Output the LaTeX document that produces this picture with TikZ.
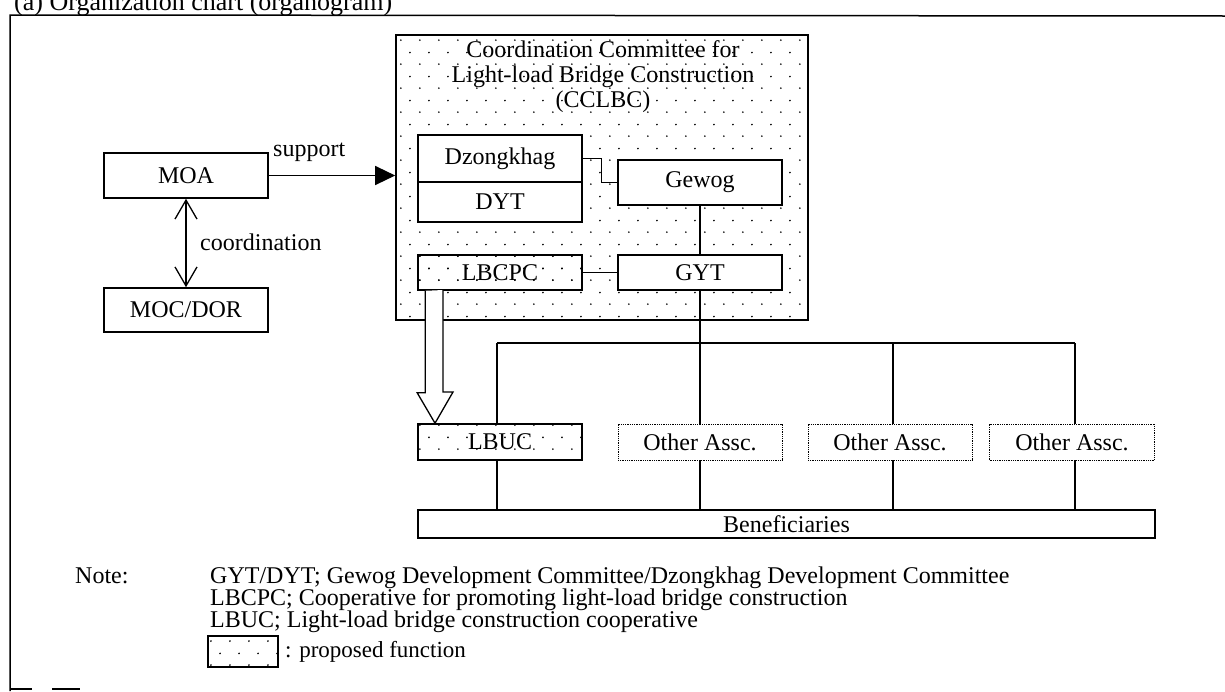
\documentclass[tikz,border=0pt]{standalone}
\usepackage{fontspec}
\setmainfont{Liberation Serif}
\usetikzlibrary{arrows.meta,patterns.meta}
\tikzdeclarepattern{
  name=sparsedots,
  type=uncolored,
  bounding box={(0pt,0pt) and (19pt,24pt)},
  tile size={(19pt,24pt)},
  code={
    \fill (2pt,3pt) circle (0.95pt);
    \fill (11.5pt,15pt) circle (0.95pt);
  }
}
\begin{document}
\begin{tikzpicture}[x=1pt,y=-1pt,
  txt/.style={font=\fontsize{24}{25}\selectfont, inner sep=0pt},
  solidbox/.style={draw, line width=1.6pt, fill=white, inner sep=0pt, font=\fontsize{24}{25}\selectfont},
  dotbox/.style={draw, line width=1.6pt, pattern={sparsedots}, pattern color=black, inner sep=0pt, font=\fontsize{24}{25}\selectfont},
  otherbox/.style={draw, line width=0.8pt, densely dotted, fill=white, inner sep=0pt, font=\fontsize{24}{25}\selectfont},
  conn/.style={line width=1.3pt},
  frame/.style={line width=1.5pt}
]
\useasboundingbox (0,0) rectangle (1225,691);
\fill[white] (0,0) rectangle (1225,691);

% title (clipped at the top) and frame
\node[font=\fontsize{26}{26}\selectfont, inner sep=0pt, anchor=base west] (title) at (14,10) {(a) Organization chart (organogram)};
\coordinate (ftl) at (10,15);
\coordinate (ftr) at (1225,16);
\coordinate (fbl) at (10,691);
\draw[frame] (ftr) -- (ftl) -- (fbl);
\coordinate (b1a) at (10,689); \coordinate (b1b) at (32,689);
\coordinate (b2a) at (52,689); \coordinate (b2b) at (80,689);
\draw[frame] (b1a) -- (b1b);
\draw[frame] (b2a) -- (b2b);

% left side
\node[solidbox, minimum width=164, minimum height=45] (moa) at (186,175.5) {MOA};
\node[solidbox, minimum width=164, minimum height=44] (moc) at (186,310) {MOC/DOR};
\draw[conn, {Straight Barb[length=19pt,width=22pt,line width=1.3pt]}-{Straight Barb[length=19pt,width=22pt,line width=1.3pt]}] (moa.south) -- (moc.north);
\node[txt, anchor=base west] (coordlbl) at (200,250) {coordination};

% CCLBC
\node[dotbox, minimum width=412, minimum height=285] (cclbc) at (602,177.5) {};
\node[txt, align=center, anchor=north] (cctitle) at (603,40) {Coordination Committee for\\Light-load Bridge Construction\\(CCLBC)};
\draw[conn, -{Triangle[length=20pt,width=19pt]}] (moa.east) -- (moa.east -| cclbc.west);
\node[txt, anchor=base west] (suplbl) at (273,156) {support};

\node[solidbox, minimum width=164, minimum height=47] (dz) at (500,158.5) {Dzongkhag};
\node[solidbox, minimum width=164, minimum height=40] (dyt) at (500,202) {DYT};
\node[solidbox, minimum width=164, minimum height=45] (gewog) at (700,182.5) {Gewog};
\node[dotbox, minimum width=164, minimum height=35] (lbcpc) at (500,272.5) {LBCPC};
\node[solidbox, minimum width=164, minimum height=35] (gyt) at (700,272.5) {GYT};

\draw[conn] (dz.east) -- ++(19,0) |- (gewog.west);
\draw[conn] (gewog.south) -- (gyt.north);
\draw[conn] (lbcpc.east) -- (gyt.west);

% lower row
\node[dotbox, minimum width=164, minimum height=36] (lbuc) at (500,442) {LBUC};
\node[otherbox, minimum width=164, minimum height=36] (oa1) at (700,442) {Other Assc.};
\node[otherbox, minimum width=164, minimum height=36] (oa2) at (890,442) {Other Assc.};
\node[otherbox, minimum width=165, minimum height=36] (oa3) at (1072,442) {Other Assc.};
\node[solidbox, minimum width=737, minimum height=28] (ben) at (786.5,524) {Beneficiaries};

% hollow arrow LBCPC -> LBUC
\draw[line width=1.3pt, fill=white] (lbcpc.south west) ++(8,0) coordinate (ha1)
  -- ++(0,102) -- ++(-8,0) -- (lbuc.north west -| 435,0) -- (453,392) -- (443,392) -- (443,290);
\coordinate (busL) at (497,343);
\coordinate (busR) at (1075,343);
\draw[conn] (busL) -- (busR);
\draw[conn] (busL) -- (lbuc.north -| busL);
\draw[conn] (gyt.south) -- (oa1.north);
\draw[conn] (893,343) -- (oa2.north -| 893,0);
\draw[conn] (busR) -- (oa3.north -| busR);

\draw[conn] (lbuc.south -| busL) -- (ben.north -| busL);
\draw[conn] (oa1.south) -- (ben.north -| oa1.south);
\draw[conn] (oa2.south -| 893,0) -- (ben.north -| 893,0);
\draw[conn] (oa3.south -| busR) -- (ben.north -| busR);

% notes
\begin{scope}[every node/.style={font=\fontsize{24}{22}\selectfont, inner sep=0pt, anchor=base west}]
\node (note) at (75,583) {Note:};
\node (n1) at (210,583) {GYT/DYT; Gewog Development Committee/Dzongkhag Development Committee};
\node (n2) at (210,605) {LBCPC; Cooperative for promoting light-load bridge construction};
\node (n3) at (210,627) {LBUC; Light-load bridge construction cooperative};
\end{scope}
\node[dotbox, minimum width=70, minimum height=31] (legend) at (243,651.5) {};
\node[font=\fontsize{23}{22}\selectfont, inner sep=0pt, anchor=west] (legtxt) at (285,652) {: proposed function};
\end{tikzpicture}
\end{document}
